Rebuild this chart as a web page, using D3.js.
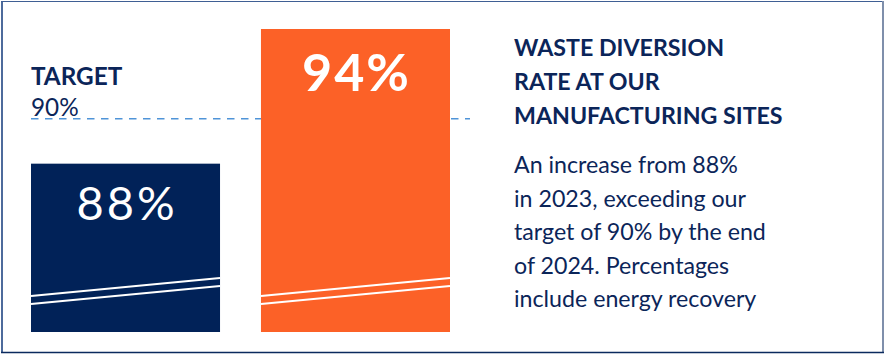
<!DOCTYPE html>
<html>
<head>
<meta charset="utf-8">
<script src="https://cdn.jsdelivr.net/npm/d3@7"></script>
<style>
  html, body { margin: 0; padding: 0; background: #fff; }
  svg { display: block; }
</style>
</head>
<body>
<svg id="chart" width="886" height="357"></svg>
<script>
// ---- data ----
const categories = ["2023", "2024"];
const values = [88, 94];
const valueLabels = ["88%", "94%"];
const target = 90;
const targetLabels = ["TARGET", "90%"];
const headingLines = ["WASTE DIVERSION", "RATE AT OUR", "MANUFACTURING SITES"];
const bodyLines = ["An increase from 88%", "in 2023, exceeding our", "target of 90% by the end", "of 2024. Percentages", "include energy recovery"];

// ---- style ----
const NAVY = "#012258";
const ORANGE = "#fc6127";
const TEXT = "#0b2559";
const DASH = "#4f94d8";
const FONT = "Lato, 'Noto Sans', sans-serif";
const barColors = [NAVY, ORANGE];
const barFontWeights = ["400", "700"];
const barFontSizes = [47, 52];
const barLetterSpacing = [3, 2];

const svg = d3.select("#chart");
const W = 886, H = 357;

svg.append("rect").attr("width", W).attr("height", H).attr("fill", "#fff");

// border (each side slightly different tone as in reference)
const border = svg.append("g");
border.append("line").attr("x1", 2).attr("x2", 2).attr("y1", 1).attr("y2", 353).attr("stroke", "#4d6b9c").attr("stroke-width", 2);
border.append("line").attr("x1", 1).attr("x2", 884).attr("y1", 1.5).attr("y2", 1.5).attr("stroke", "#3f5f94").attr("stroke-width", 1.2);
border.append("line").attr("x1", 883).attr("x2", 883).attr("y1", 1).attr("y2", 353).attr("stroke", "#7f8fab").attr("stroke-width", 2);
border.append("line").attr("x1", 1).attr("x2", 884).attr("y1", 352.5).attr("y2", 352.5).attr("stroke", "#0b2a5e").attr("stroke-width", 1.6);

// scales
const x = d3.scaleBand().domain(categories).range([31, 450]).paddingInner(0.178).paddingOuter(0);
const y = d3.scaleLinear().domain([80.5, 94]).range([332, 29]);

// target dashed line (behind bars)
const ty = y(target);
svg.append("line")
  .attr("x1", 31).attr("x2", 470)
  .attr("y1", ty).attr("y2", ty)
  .attr("stroke", DASH).attr("stroke-width", 1.5)
  .attr("stroke-dasharray", "7.5,6.5");

// target label
svg.append("text").attr("x", 31).attr("y", ty - 34)
  .attr("font-family", FONT).attr("font-weight", 700).attr("font-size", 24.3)
  .attr("fill", TEXT).text(targetLabels[0]);
svg.append("text").attr("x", 31).attr("y", ty - 2.5)
  .attr("font-family", FONT).attr("font-weight", 400).attr("font-size", 24.3)
  .attr("fill", TEXT).text(targetLabels[1]);

// bars
const data = categories.map((c, i) => ({ c, v: values[i], label: valueLabels[i], i }));
const bars = svg.selectAll("g.bar").data(data).join("g").attr("class", "bar");
bars.append("rect")
  .attr("x", d => x(d.c)).attr("width", x.bandwidth())
  .attr("y", d => y(d.v)).attr("height", d => y.range()[0] - y(d.v))
  .attr("fill", d => barColors[d.i]);

// broken-axis marks (two white slanted lines near the bar base)
const base = y.range()[0];
[0, 8].forEach(off => {
  bars.append("line")
    .attr("x1", d => x(d.c)).attr("x2", d => x(d.c) + x.bandwidth())
    .attr("y1", base - 36 + off).attr("y2", base - 54 + off)
    .attr("stroke", "#fff").attr("stroke-width", 2);
});

// value labels
bars.append("text")
  .attr("x", d => x(d.c) + x.bandwidth() / 2 + barLetterSpacing[d.i] / 2)
  .attr("y", d => y(d.v) + barFontSizes[d.i] * 1.2)
  .attr("text-anchor", "middle")
  .attr("font-family", FONT)
  .attr("font-weight", d => barFontWeights[d.i])
  .attr("font-size", d => barFontSizes[d.i])
  .attr("letter-spacing", d => barLetterSpacing[d.i])
  .attr("fill", "#fff")
  .text(d => d.label);

// right-hand text
const tx = 514;
svg.append("g").selectAll("text").data(headingLines).join("text")
  .attr("x", tx).attr("y", (d, i) => 56 + i * 34)
  .attr("font-family", FONT).attr("font-weight", 700).attr("font-size", 23.2)
  .attr("fill", TEXT).text(d => d);
svg.append("g").selectAll("text").data(bodyLines).join("text")
  .attr("x", tx).attr("y", (d, i) => 173 + i * 33.5)
  .attr("font-family", FONT).attr("font-weight", 400).attr("font-size", 23.2)
  .attr("fill", TEXT).text(d => d);
</script>
</body>
</html>
